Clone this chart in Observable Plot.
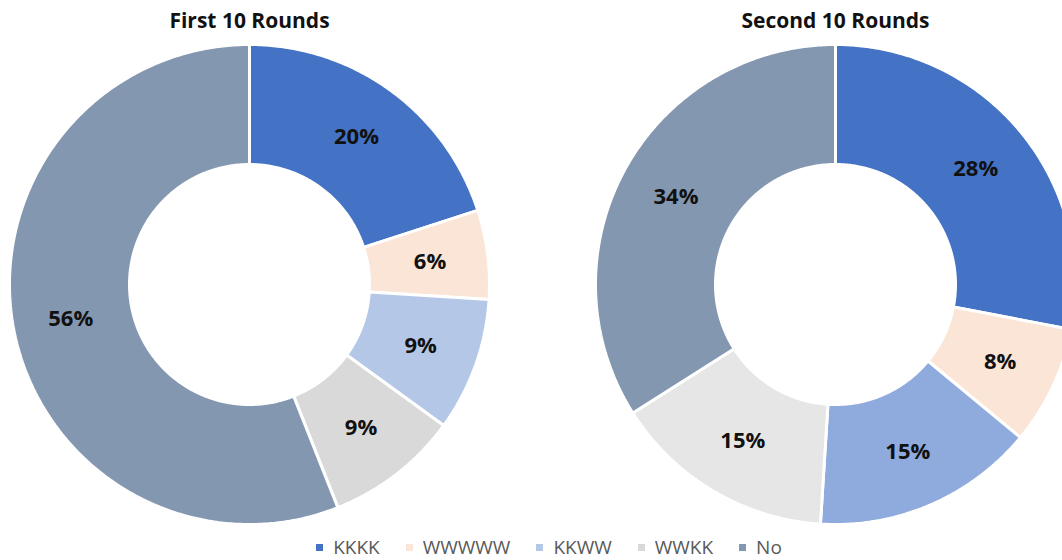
<!DOCTYPE html>
<html>
<head>
<meta charset="utf-8">
<script src="https://cdn.jsdelivr.net/npm/d3@7"></script>
<script src="https://cdn.jsdelivr.net/npm/@observablehq/plot@0.6"></script>
<style>
  html, body { margin: 0; padding: 0; background: #fff; overflow: hidden; }
  #wrap { position: relative; width: 1062px; height: 560px; }
  #legend { position: absolute; left: 0; top: 535px; width: 1062px; height: 24px; }
  #legend .item { position: absolute; top: 0; display: flex; align-items: center; height: 24px;
            font-family: "Open Sans", sans-serif; font-size: 19px; color: #595959; white-space: nowrap; }
  #legend .sw { width: 7px; height: 7px; margin-right: 10px; }
</style>
</head>
<body>
<div id="wrap"><div id="chart"></div><div id="legend"></div></div>
<script>
// ---- data ----
const categories = ["KKKK", "WWWWW", "KKWW", "WWKK", "No"];
const rounds = ["First 10 Rounds", "Second 10 Rounds"];
const firstValues = [20, 6, 9, 9, 56];
const secondValues = [28, 8, 15, 15, 34];

// ---- styles ----
const firstColors = ["#4472C4", "#FBE5D6", "#B4C7E7", "#D9D9D9", "#8497B0"];
const secondColors = ["#4472C4", "#FBE5D6", "#8FAADC", "#E7E6E6", "#8497B0"];
const legendColors = ["#4472C4", "#FBE5D6", "#B4C7E7", "#D9D9D9", "#8497B0"];
const W = 1062, H = 532;
const centersX = [249, 835];
const centerY = 284;
const R = 240, r0 = 120, labelR = 182;

const series = [firstValues, secondValues];
const palettes = [firstColors, secondColors];

const pie = d3.pie().sort(null).value(d => d.value);
const points = [];
const labels = [];
const titles = [];
rounds.forEach((round, ri) => {
  const cx = centersX[ri];
  titles.push({text: round, x: cx, y: centerY - R - 23});
  const rows = categories.map((c, i) => ({cat: c, value: series[ri][i], color: palettes[ri][i]}));
  pie(rows).forEach(a => {
    const key = round + "|" + a.data.cat;
    const steps = Math.max(4, Math.ceil((a.endAngle - a.startAngle) / 0.01));
    for (let k = 0; k <= steps; k++) {
      const t = a.startAngle + (a.endAngle - a.startAngle) * k / steps;
      points.push({key, color: a.data.color, x: cx + R * Math.sin(t), y: centerY - R * Math.cos(t)});
    }
    for (let k = steps; k >= 0; k--) {
      const t = a.startAngle + (a.endAngle - a.startAngle) * k / steps;
      points.push({key, color: a.data.color, x: cx + r0 * Math.sin(t), y: centerY - r0 * Math.cos(t)});
    }
    const m = (a.startAngle + a.endAngle) / 2;
    labels.push({text: a.data.value + "%", x: cx + labelR * Math.sin(m), y: centerY - labelR * Math.cos(m)});
  });
});

const chart = Plot.plot({
  width: W, height: H,
  margin: 0,
  x: {domain: [0, W], range: [0, W], axis: null},
  y: {domain: [0, H], range: [0, H], axis: null},
  color: {type: "identity"},
  style: {fontFamily: "'Open Sans', sans-serif", background: "#fff", overflow: "hidden"},
  marks: [
    Plot.line(points, {x: "x", y: "y", z: "key", fill: "color", stroke: "#fff", strokeWidth: 3,
      curve: "linear-closed", strokeLinejoin: "miter", clip: true}),
    Plot.text(labels, {x: "x", y: "y", text: "text", fill: "#111", fontSize: 22, fontWeight: "bold"}),
    Plot.text(titles, {x: "x", y: "y", text: "text", fill: "#111", fontSize: 21, fontWeight: "bold"})
  ]
});
document.getElementById("chart").appendChild(chart);

// legend: items laid out left to right, centred as a group
const legend = document.getElementById("legend");
const items = categories.map((c, i) => {
  const it = document.createElement("div");
  it.className = "item";
  const sw = document.createElement("span");
  sw.className = "sw";
  sw.style.background = legendColors[i];
  const tx = document.createElement("span");
  tx.textContent = c;
  it.appendChild(sw); it.appendChild(tx);
  legend.appendChild(it);
  return it;
});
const gap = 26;
const widths = items.map(it => it.getBoundingClientRect().width);
const total = d3.sum(widths) + gap * (items.length - 1);
let xpos = 549 - total / 2;
items.forEach((it, i) => { it.style.left = xpos + "px"; xpos += widths[i] + gap; });
</script>
</body>
</html>
